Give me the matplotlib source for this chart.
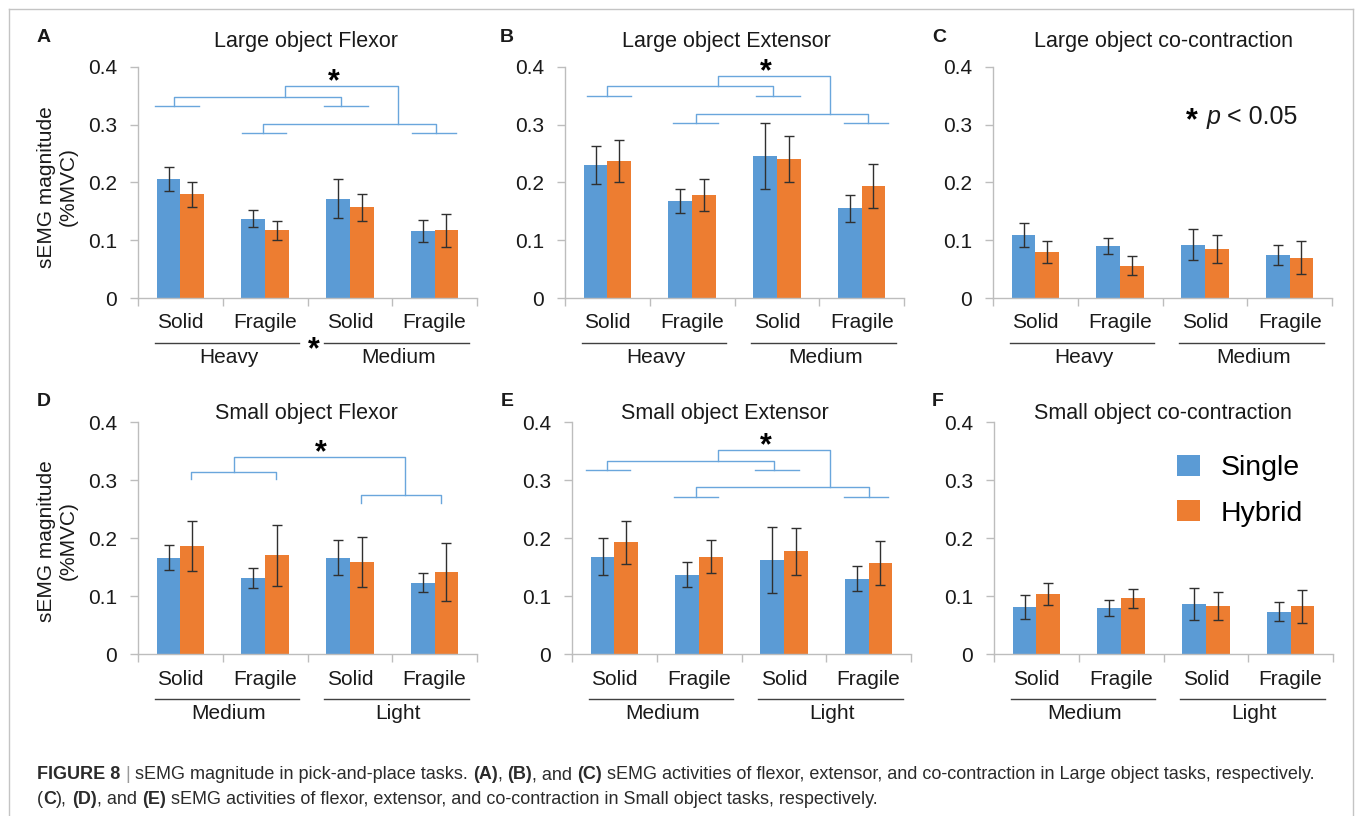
import numpy as np
import matplotlib as mpl
import matplotlib.pyplot as plt
import matplotlib.transforms as mtransforms
from matplotlib.lines import Line2D
from matplotlib.patches import Patch
from matplotlib import font_manager

# ---------------- data ----------------
categories    = ["Solid", "Fragile", "Solid", "Fragile"]
groupsLarge   = ["Heavy", "Medium"]
groupsSmall   = ["Medium", "Light"]
seriesNames   = ["Single", "Hybrid"]
yTicks        = [0, 0.1, 0.2, 0.3, 0.4]
yTickLabels   = ["0", "0.1", "0.2", "0.3", "0.4"]
panelLetters  = ["A", "B", "C", "D", "E", "F"]
panelTitles   = ["Large object Flexor", "Large object Extensor", "Large object co-contraction",
                 "Small object Flexor", "Small object Extensor", "Small object co-contraction"]

largeFlexorSingle      = [0.206, 0.137, 0.172, 0.116]
largeFlexorSingleErr   = [0.021, 0.015, 0.033, 0.019]
largeFlexorHybrid      = [0.179, 0.117, 0.157, 0.117]
largeFlexorHybridErr   = [0.022, 0.017, 0.023, 0.028]

largeExtensorSingle    = [0.230, 0.168, 0.246, 0.155]
largeExtensorSingleErr = [0.032, 0.021, 0.057, 0.023]
largeExtensorHybrid    = [0.237, 0.178, 0.240, 0.193]
largeExtensorHybridErr = [0.037, 0.028, 0.040, 0.038]

largeCoSingle          = [0.109, 0.090, 0.092, 0.074]
largeCoSingleErr       = [0.021, 0.014, 0.027, 0.017]
largeCoHybrid          = [0.080, 0.056, 0.085, 0.070]
largeCoHybridErr       = [0.019, 0.016, 0.024, 0.029]

smallFlexorSingle      = [0.166, 0.131, 0.166, 0.123]
smallFlexorSingleErr   = [0.022, 0.017, 0.030, 0.016]
smallFlexorHybrid      = [0.186, 0.170, 0.158, 0.142]
smallFlexorHybridErr   = [0.043, 0.053, 0.043, 0.050]

smallExtensorSingle    = [0.168, 0.137, 0.162, 0.130]
smallExtensorSingleErr = [0.032, 0.021, 0.057, 0.022]
smallExtensorHybrid    = [0.193, 0.168, 0.177, 0.157]
smallExtensorHybridErr = [0.037, 0.028, 0.040, 0.038]

smallCoSingle          = [0.081, 0.079, 0.086, 0.073]
smallCoSingleErr       = [0.021, 0.014, 0.027, 0.016]
smallCoHybrid          = [0.103, 0.096, 0.083, 0.082]
smallCoHybridErr       = [0.019, 0.016, 0.024, 0.029]

captionLine1 = [("FIGURE 8 ", "bold"), ("| ", "normal"),
                ("sEMG magnitude in pick-and-place tasks. ", "normal"),
                ("(A)", "bold"), (", ", "normal"), ("(B)", "bold"), (", and ", "normal"), ("(C)", "bold"),
                (" sEMG activities of flexor, extensor, and co-contraction in Large object tasks, respectively.", "normal")]
captionLine2 = [("(", "normal"), ("C", "bold"), ("), ", "normal"), ("(D)", "bold"),
                (", and ", "normal"), ("(E)", "bold"),
                (" sEMG activities of flexor, extensor, and co-contraction in Small object tasks, respectively.", "normal")]

# ---------------- style ----------------
W, H = 1355, 816
BLUE = "#5B9BD5"
ORANGE = "#ED7D31"
AXIS = "#bdbdbd"
TEXT = "#1a1a1a"
ERR = "#303030"
SIG = "#6aa6dc"
BAR_W = 0.28
STAR_SIZE = 22
STAR_LIFT = 0.50  # glyph centre above baseline, in em

plt.rcParams["font.family"] = ["Liberation Sans", "DejaVu Sans"]

fig = plt.figure(figsize=(W / 100, H / 100), dpi=100)
renderer = fig.canvas.get_renderer()


def pxBox(left, right, top, bottom):
    return [left / W, 1 - bottom / H, (right - left) / W, (bottom - top) / H]


def drawStar(ax, x, y, transform=None):
    tr = transform if transform is not None else ax.transData
    tr = mtransforms.offset_copy(tr, fig=fig, y=-STAR_LIFT * STAR_SIZE, units="points")
    ax.text(x, y, "*", transform=tr, ha="center", va="baseline", fontsize=STAR_SIZE,
            fontweight="bold", color="black", clip_on=False)


def drawSignificance(ax, shortLines, brackets, star):
    for xc, y in shortLines:
        ax.plot([xc - 0.26, xc + 0.26], [y, y], color=SIG, lw=1, clip_on=False, zorder=4)
    for x1, x2, ytop, yl, yr in brackets:
        ax.plot([x1, x1, x2, x2], [yl, ytop, ytop, yr], color=SIG, lw=1, clip_on=False, zorder=4)
    drawStar(ax, star[0], star[1])


def drawPanel(ax, single, singleErr, hybrid, hybridErr, groups):
    x = np.arange(len(categories))
    ax.bar(x - BAR_W / 2, single, BAR_W, color=BLUE, zorder=2)
    ax.bar(x + BAR_W / 2, hybrid, BAR_W, color=ORANGE, zorder=2)
    ax.errorbar(x - BAR_W / 2, single, yerr=singleErr, fmt="none", ecolor=ERR,
                elinewidth=1, capsize=3.5, capthick=1, zorder=3)
    ax.errorbar(x + BAR_W / 2, hybrid, yerr=hybridErr, fmt="none", ecolor=ERR,
                elinewidth=1, capsize=3.5, capthick=1, zorder=3)
    ax.set_xlim(-0.5, 3.5)
    ax.set_ylim(0, 0.4)
    ax.set_xticks([-0.5, 0.5, 1.5, 2.5, 3.5])
    ax.set_xticklabels([])
    ax.set_yticks(yTicks)
    ax.set_yticklabels(yTickLabels)
    ax.tick_params(axis="y", length=6, width=1, color=AXIS, labelsize=15, pad=9, labelcolor=TEXT)
    ax.tick_params(axis="x", length=6, width=1, color=AXIS)
    for s in ["top", "right"]:
        ax.spines[s].set_visible(False)
    for s in ["left", "bottom"]:
        ax.spines[s].set_color(AXIS)
        ax.spines[s].set_linewidth(1)
    ax.patch.set_alpha(0)

    trans = mtransforms.blended_transform_factory(ax.transData, ax.transAxes)
    for i, c in enumerate(categories):
        ax.text(i, -0.108, c, transform=trans, ha="center", va="center", fontsize=15, color=TEXT)
    for g, name in enumerate(groups):
        gc = 0.5 + 2 * g
        ax.plot([gc - 0.8, gc + 0.9], [-0.195, -0.195], transform=trans, color="#404040",
                lw=1, clip_on=False)
        ax.text(gc + 0.07, -0.256, name, transform=trans, ha="center", va="center",
                fontsize=15, color=TEXT)


panels = [
    dict(box=(138, 477, 66.7, 298), title=(306, 41), letter=(37, 37),
         data=(largeFlexorSingle, largeFlexorSingleErr, largeFlexorHybrid, largeFlexorHybridErr), groups=groupsLarge,
         sig=([(-0.04, 0.3315), (1.95, 0.3315), (0.985, 0.286), (2.99, 0.286)],
              [(-0.07, 1.9, 0.348, 0.3315, 0.3315), (0.98, 3.02, 0.3016, 0.286, 0.286),
               (1.24, 2.57, 0.367, 0.348, 0.3016)], (1.81, 0.3856))),
    dict(box=(565, 904, 66.7, 298), title=(726, 41), letter=(500, 37),
         data=(largeExtensorSingle, largeExtensorSingleErr, largeExtensorHybrid, largeExtensorHybridErr), groups=groupsLarge,
         sig=([(0.02, 0.3488), (2.01, 0.3488), (1.04, 0.302), (3.05, 0.302)],
              [(-0.01, 1.96, 0.366, 0.3488, 0.3488), (1.04, 3.08, 0.319, 0.302, 0.302),
               (1.31, 2.63, 0.384, 0.366, 0.319)], (1.87, 0.403))),
    dict(box=(993, 1332, 66.7, 298), title=(1163, 41), letter=(932, 37),
         data=(largeCoSingle, largeCoSingleErr, largeCoHybrid, largeCoHybridErr), groups=groupsLarge, sig=None),
    dict(box=(138, 477, 422, 654), title=(306, 414), letter=(37, 401),
         data=(smallFlexorSingle, smallFlexorSingleErr, smallFlexorHybrid, smallFlexorHybridErr), groups=groupsSmall,
         sig=([],
              [(0.124, 1.13, 0.3137, 0.3016, 0.3016), (2.13, 3.08, 0.275, 0.260, 0.260),
               (0.63, 2.645, 0.3396, 0.3137, 0.275)], (1.66, 0.358))),
    dict(box=(572, 911, 422, 654), title=(725, 414), letter=(501, 401),
         data=(smallExtensorSingle, smallExtensorSingleErr, smallExtensorHybrid, smallExtensorHybridErr), groups=groupsSmall,
         sig=([(-0.07, 0.3165), (1.92, 0.3165), (0.96, 0.2705), (2.97, 0.2705)],
              [(-0.09, 1.88, 0.3333, 0.3165, 0.3165), (0.96, 3.0, 0.2872, 0.2705, 0.2705),
               (1.22, 2.55, 0.3522, 0.3333, 0.2872)], (1.79, 0.370))),
    dict(box=(994, 1333, 422, 654), title=(1163, 414), letter=(932, 401),
         data=(smallCoSingle, smallCoSingleErr, smallCoHybrid, smallCoHybridErr), groups=groupsSmall, sig=None),
]

axes = []
for i, p in enumerate(panels):
    ax = fig.add_axes(pxBox(*p["box"]))
    drawPanel(ax, *p["data"], p["groups"])
    if p["sig"] is not None:
        drawSignificance(ax, *p["sig"])
    fig.text(p["title"][0] / W, 1 - p["title"][1] / H, panelTitles[i], ha="center", va="center",
             fontsize=15.5, color=TEXT)
    fig.text(p["letter"][0] / W, 1 - p["letter"][1] / H, panelLetters[i], ha="left", va="center",
             fontsize=14, fontweight="bold", color=TEXT)
    axes.append(ax)

# star between Heavy and Medium in panel A
drawStar(axes[0], 1.577, -0.195,
         transform=mtransforms.blended_transform_factory(axes[0].transData, axes[0].transAxes))

# y labels
for yc in [187, 541]:
    fig.text(57.5 / W, 1 - yc / H, "sEMG magnitude\n(%MVC)", rotation=90, ha="center", va="center",
             fontsize=15, linespacing=1.2, multialignment="center", color=TEXT)

# p < 0.05 note in panel C
starTr = mtransforms.offset_copy(fig.transFigure, fig=fig, y=-STAR_LIFT * STAR_SIZE, units="points")
fig.text(1191.5 / W, 1 - 114 / H, "*", transform=starTr, ha="center", va="baseline",
         fontsize=STAR_SIZE, fontweight="bold", color="black")
pTxt = fig.text(1207 / W, 1 - 124 / H, "p", fontsize=18, fontstyle="italic", va="baseline", color=TEXT)
pW = pTxt.get_window_extent(renderer).width
fig.text((1207 + pW + 6) / W, 1 - 124 / H, "< 0.05", fontsize=18, va="baseline", color=TEXT)

# legend in panel F
handles = [Patch(facecolor=BLUE, edgecolor="none"), Patch(facecolor=ORANGE, edgecolor="none")]
fig.legend(handles, seriesNames, loc="upper left", bbox_to_anchor=(1177 / W, 1 - 455 / H),
           bbox_transform=fig.transFigure, frameon=False, fontsize=20.5, handlelength=0.8,
           handleheight=0.75, handletextpad=0.72, labelspacing=0.66, borderpad=0, borderaxespad=0)

# frame of the figure
for xs, ys in [([9, 9], [9, H]), ([9, 1353], [9, 9]), ([1353, 1353], [9, H])]:
    fig.add_artist(Line2D([x / W for x in xs], [1 - y / H for y in ys], color="#c4c4c4", lw=1))

# caption
names = {f.name for f in font_manager.fontManager.ttflist}
capFamily = ["Liberation Sans Narrow"] if "Liberation Sans Narrow" in names else ["Liberation Sans"]


def inkWidth(txt, size, weight):
    t = fig.text(0, 0, txt, fontsize=size, fontweight=weight, family=capFamily)
    w = t.get_window_extent(renderer).width
    t.remove()
    return w


def advance(txt, size, weight):
    # advance width including bearings and spaces, measured between two bars
    return inkWidth("|" + txt + "|", size, weight) - inkWidth("||", size, weight)


def runsWidth(runs, size):
    return sum(advance(txt, size, weight) for txt, weight in runs)


def drawRuns(runs, xPx, yPx, size):
    x = xPx
    for txt, weight in runs:
        lead = advance(txt, size, weight) - advance(txt.lstrip(), size, weight)
        fig.text((x + lead) / W, 1 - yPx / H, txt.strip(), fontsize=size, fontweight=weight,
                 family=capFamily, va="baseline", ha="left",
                 color="#9a9a9a" if txt.strip() == "|" else "#2b2b2b")
        x += advance(txt, size, weight)


baseSize = 12.0
capSize = baseSize * 1278 / runsWidth(captionLine1, baseSize)
drawRuns(captionLine1, 37, 779, capSize)
drawRuns(captionLine2, 37, 804, capSize)

fig.savefig("out.png", dpi=100)
